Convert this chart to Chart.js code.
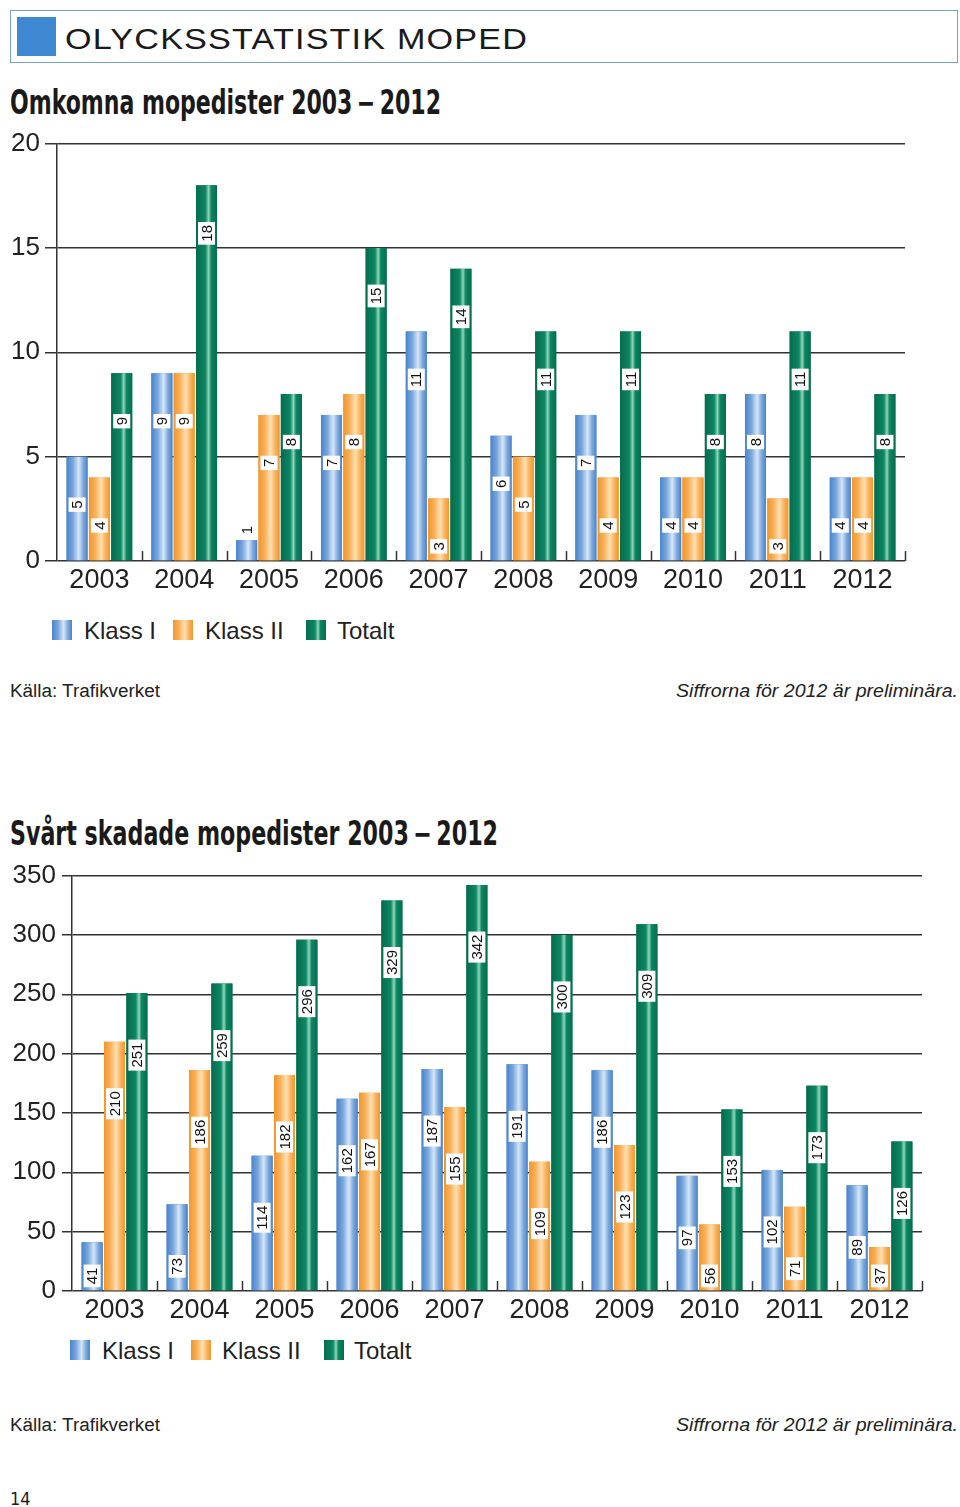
<!DOCTYPE html>
<html><head><meta charset="utf-8">
<script src="https://cdn.jsdelivr.net/npm/chart.js@4/dist/chart.umd.min.js"></script>
<style>
body{margin:0;width:960px;height:1507px;position:relative;background:#fff;font-family:"Liberation Sans",Arial,sans-serif;color:#222;overflow:hidden}
.t{position:absolute;white-space:nowrap;line-height:1}
.cond{font-family:"Liberation Sans Narrow","DejaVu Sans Condensed","Liberation Sans",sans-serif;font-weight:bold;color:#1a1a1a}
.sw{position:absolute;width:20px;height:20px}
.lg{position:absolute;font-size:24px;line-height:1;color:#222;white-space:nowrap}
canvas{position:absolute;left:0}
</style></head><body>
<div style="position:absolute;left:10px;top:10px;width:948px;height:53px;box-sizing:border-box;border:1.5px solid #7aa3cc"></div>
<div style="position:absolute;left:17px;top:17px;width:39px;height:39px;background:#3f88d2"></div>
<div class="t fit" data-w="463" style="left:65px;top:25px;font-size:29px;color:#1a1a1a;letter-spacing:1px">OLYCKSSTATISTIK MOPED</div>

<div class="t cond fit" data-w="431" style="left:10px;top:86px;font-size:33px">Omkomna mopedister 2003&#8201;&#8722;&#8201;2012</div>
<canvas id="c1" width="960" height="480" style="top:123px"></canvas>
<div id="lg1"></div>
<div class="t fit" data-w="150" style="left:10px;top:682px;font-size:18px">Källa: Trafikverket</div>
<div class="t fit" data-w="282" style="left:676px;top:682px;font-size:18px;font-style:italic">Siffrorna för 2012 är preliminära.</div>

<div class="t cond fit" data-w="488" style="left:10px;top:817px;font-size:33px">Svårt skadade mopedister 2003&#8201;&#8722;&#8201;2012</div>
<canvas id="c2" width="960" height="480" style="top:854px"></canvas>
<div id="lg2"></div>
<div class="t fit" data-w="150" style="left:10px;top:1416px;font-size:18px">Källa: Trafikverket</div>
<div class="t fit" data-w="282" style="left:676px;top:1416px;font-size:18px;font-style:italic">Siffrorna för 2012 är preliminära.</div>
<div class="t cond" style="left:10px;top:1490px;font-size:18px;font-weight:normal">14</div>

<script>
// ---- data ----
const years = ['2003','2004','2005','2006','2007','2008','2009','2010','2011','2012'];
const seriesNames = ['Klass I','Klass II','Totalt'];
const deadKlass1 = [5,9,1,7,11,6,7,4,8,4];
const deadKlass2 = [4,9,7,8,3,5,4,4,3,4];
const deadTotal  = [9,18,8,15,14,11,11,8,11,8];
const deadTicks = [0,5,10,15,20];
const injuredKlass1 = [41,73,114,162,187,191,186,97,102,89];
const injuredKlass2 = [210,186,182,167,155,109,123,56,71,37];
const injuredTotal  = [251,259,296,329,342,300,309,153,173,126];
const injuredTicks = [0,50,100,150,200,250,300,350];

// ---- styles ----
const baseColors = ['#4a84cc','#f2962a','#06704f'];
const gradStops = [
  [[0,'#4a84cc'],[0.3,'#78a6dc'],[0.58,'#d6e6f7'],[0.8,'#7ba8dc'],[1,'#4a84cc']],
  [[0,'#f2962a'],[0.3,'#f7b05a'],[0.58,'#ffe0b2'],[0.8,'#f8b15c'],[1,'#f2962a']],
  [[0,'#056c4d'],[0.45,'#0d8764'],[0.6,'#93d6b9'],[0.72,'#0d8764'],[1,'#056c4d']]
];
function cssGrad(i){return 'linear-gradient(to right,'+gradStops[i].map(s=>s[1]+' '+(s[0]*100)+'%').join(',')+')';}

const barPlugin = {
  id:'barDeco',
  beforeDatasetsDraw(chart){
    const {ctx, chartArea:a} = chart;
    const n = chart.data.labels.length;
    ctx.save();
    ctx.strokeStyle='#333'; ctx.lineWidth=1.5;
    for(let i=1;i<=n;i++){
      const x = Math.round(a.left + i*(a.right-a.left)/n)+0.5;
      ctx.beginPath(); ctx.moveTo(x,a.bottom); ctx.lineTo(x,a.bottom-10); ctx.stroke();
    }
    ctx.restore();
  },
  afterDatasetsDraw(chart){
    const ctx = chart.ctx;
    const off = chart.options.plugins.barDeco.offset;
    chart.data.datasets.forEach((ds,di)=>{
      const meta = chart.getDatasetMeta(di);
      meta.data.forEach(el=>{
        const w = el.width, x0 = el.x - w/2;
        const g = ctx.createLinearGradient(x0,0,x0+w,0);
        gradStops[di].forEach(s=>g.addColorStop(s[0],s[1]));
        ctx.fillStyle=g;
        ctx.fillRect(x0, el.y, w, el.base-el.y);
      });
    });
    chart.data.datasets.forEach((ds,di)=>{
      const meta = chart.getDatasetMeta(di);
      meta.data.forEach((el,i)=>{
        const txt = String(ds.data[i]);
        ctx.save();
        ctx.font='15px "Liberation Sans", Arial, sans-serif';
        const tw = ctx.measureText(txt).width;
        const L = tw+6, T=17;
        const h = el.base-el.y;
        let cy, inside=true;
        if(h >= L+6){ cy = el.y + Math.min(off, h - L/2 - 3); }
        else { cy = el.y - L/2 - 3; inside=false; }
        ctx.translate(el.x, cy);
        ctx.rotate(-Math.PI/2);
        if(inside){ ctx.fillStyle='#fff'; ctx.fillRect(-L/2,-T/2,L,T); }
        ctx.fillStyle='#111'; ctx.textAlign='center'; ctx.textBaseline='middle';
        ctx.fillText(txt,0,1);
        ctx.restore();
      });
    });
  }
};

function makeChart(id, data, ticks, cfg){
  return new Chart(document.getElementById(id), {
    type:'bar',
    data:{
      labels: years,
      datasets: data.map((d,i)=>({label:seriesNames[i], data:d, backgroundColor:baseColors[i], borderWidth:0,
        categoryPercentage:0.79, barPercentage:0.94}))
    },
    options:{
      responsive:false, animation:false, devicePixelRatio:1,
      layout:{padding:{left:0,right:cfg.right,top:cfg.top,bottom:0}},
      plugins:{legend:{display:false}, tooltip:{enabled:false}, barDeco:{offset:cfg.off}},
      scales:{
        x:{
          grid:{display:false, drawTicks:false}, border:{display:false},
          ticks:{color:'#222', padding:cfg.xpad, font:{size:27, family:'"Liberation Sans", Arial, sans-serif'}},
          afterFit(s){ s.height = cfg.xh; }
        },
        y:{
          min:ticks[0], max:ticks[ticks.length-1],
          afterBuildTicks(s){ s.ticks = ticks.map(v=>({value:v})); },
          grid:{color:'#333', lineWidth:1.5, tickLength:cfg.tl, drawTicks:true},
          border:{color:'#333', width:1.5},
          ticks:{color:'#222', padding:cfg.ypad, font:{size:26, family:'"Liberation Sans", Arial, sans-serif'}},
          afterFit(s){ s.width = cfg.yw; }
        }
      }
    },
    plugins:[barPlugin]
  });
}

makeChart('c1',[deadKlass1,deadKlass2,deadTotal],deadTicks,{right:55,top:0,xh:42,yw:57,tl:12,ypad:5,xpad:3,off:48});
makeChart('c2',[injuredKlass1,injuredKlass2,injuredTotal],injuredTicks,{right:38,top:0,xh:43,yw:72,tl:10,ypad:6,xpad:3,off:62});

function legend(id, top, sx, tx){
  const el = document.getElementById(id);
  seriesNames.forEach((n,i)=>{
    const s=document.createElement('div'); s.className='sw';
    s.style.left=sx[i]+'px'; s.style.top=top+'px'; s.style.background=cssGrad(i);
    el.appendChild(s);
    const t=document.createElement('div'); t.className='lg'; t.textContent=n;
    t.style.left=tx[i]+'px'; t.style.top=(top-1)+'px';
    el.appendChild(t);
  });
}
legend('lg1',620,[52,173,306],[84,205,337]);
legend('lg2',1340,[70,191,324],[102,222,354]);

document.querySelectorAll('.fit').forEach(e=>{
  const w = e.getBoundingClientRect().width;
  const k = (+e.dataset.w)/w;
  e.style.transformOrigin='left top';
  e.style.transform='scaleX('+k+')';
});
</script>
</body></html>
